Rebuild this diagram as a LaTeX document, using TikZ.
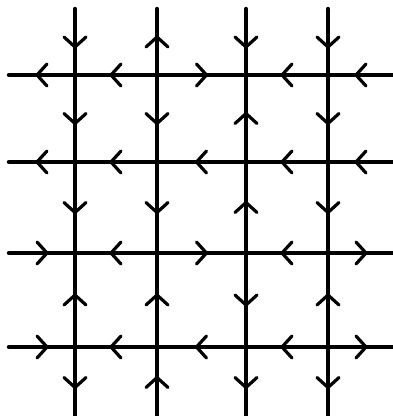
\documentclass[tikz,border=0pt]{standalone}
\usetikzlibrary{decorations.markings}
\tikzset{
  grid line/.style={line width=4.5pt, line cap=round},
  chevron/.style={line width=3.2pt},
  fwd/.style={grid line, postaction=decorate, decoration={markings,
      mark=at position 0.5 with {\draw[chevron] (-5pt,11pt) -- (5pt,0pt) -- (-5pt,-11pt);}}},
  bwd/.style={grid line, postaction=decorate, decoration={markings,
      mark=at position 0.5 with {\draw[chevron] (5pt,11pt) -- (-5pt,0pt) -- (5pt,-11pt);}}},
}
\begin{document}
\begin{tikzpicture}[x=1pt,y=-1pt]
\useasboundingbox (0,0) rectangle (392,416);
% column x positions and row y positions
\def\xa{75}\def\xb{157}\def\xc{246}\def\xd{328}
\def\ya{75}\def\yb{162}\def\yc{253}\def\yd{347}
% intersections
\foreach \cx [count=\i] in {\xa,\xb,\xc,\xd}{
  \foreach \ry [count=\j] in {\ya,\yb,\yc,\yd}{
    \coordinate (p\i\j) at (\cx,\ry);
  }
  \coordinate (t\i) at (\cx,9);
  \coordinate (b\i) at (\cx,418);
}
\foreach \ry [count=\j] in {\ya,\yb,\yc,\yd}{
  \coordinate (l\j) at (9,\ry);
  \coordinate (r\j) at (394,\ry);
}
% rows (fwd = pointing right)
\draw[bwd] (l1) -- (p11); \draw[bwd] (p11) -- (p21); \draw[fwd] (p21) -- (p31); \draw[bwd] (p31) -- (p41); \draw[bwd] (p41) -- (r1);
\draw[bwd] (l2) -- (p12); \draw[bwd] (p12) -- (p22); \draw[bwd] (p22) -- (p32); \draw[bwd] (p32) -- (p42); \draw[bwd] (p42) -- (r2);
\draw[fwd] (l3) -- (p13); \draw[bwd] (p13) -- (p23); \draw[fwd] (p23) -- (p33); \draw[bwd] (p33) -- (p43); \draw[fwd] (p43) -- (r3);
\draw[fwd] (l4) -- (p14); \draw[bwd] (p14) -- (p24); \draw[bwd] (p24) -- (p34); \draw[bwd] (p34) -- (p44); \draw[fwd] (p44) -- (r4);
% columns (fwd = pointing down)
\draw[fwd] (t1) -- (p11); \draw[fwd] (p11) -- (p12); \draw[fwd] (p12) -- (p13); \draw[bwd] (p13) -- (p14); \draw[fwd] (p14) -- (b1);
\draw[bwd] (t2) -- (p21); \draw[fwd] (p21) -- (p22); \draw[fwd] (p22) -- (p23); \draw[bwd] (p23) -- (p24); \draw[bwd] (p24) -- (b2);
\draw[fwd] (t3) -- (p31); \draw[bwd] (p31) -- (p32); \draw[bwd] (p32) -- (p33); \draw[fwd] (p33) -- (p34); \draw[fwd] (p34) -- (b3);
\draw[fwd] (t4) -- (p41); \draw[fwd] (p41) -- (p42); \draw[fwd] (p42) -- (p43); \draw[bwd] (p43) -- (p44); \draw[fwd] (p44) -- (b4);
\end{tikzpicture}
\end{document}
